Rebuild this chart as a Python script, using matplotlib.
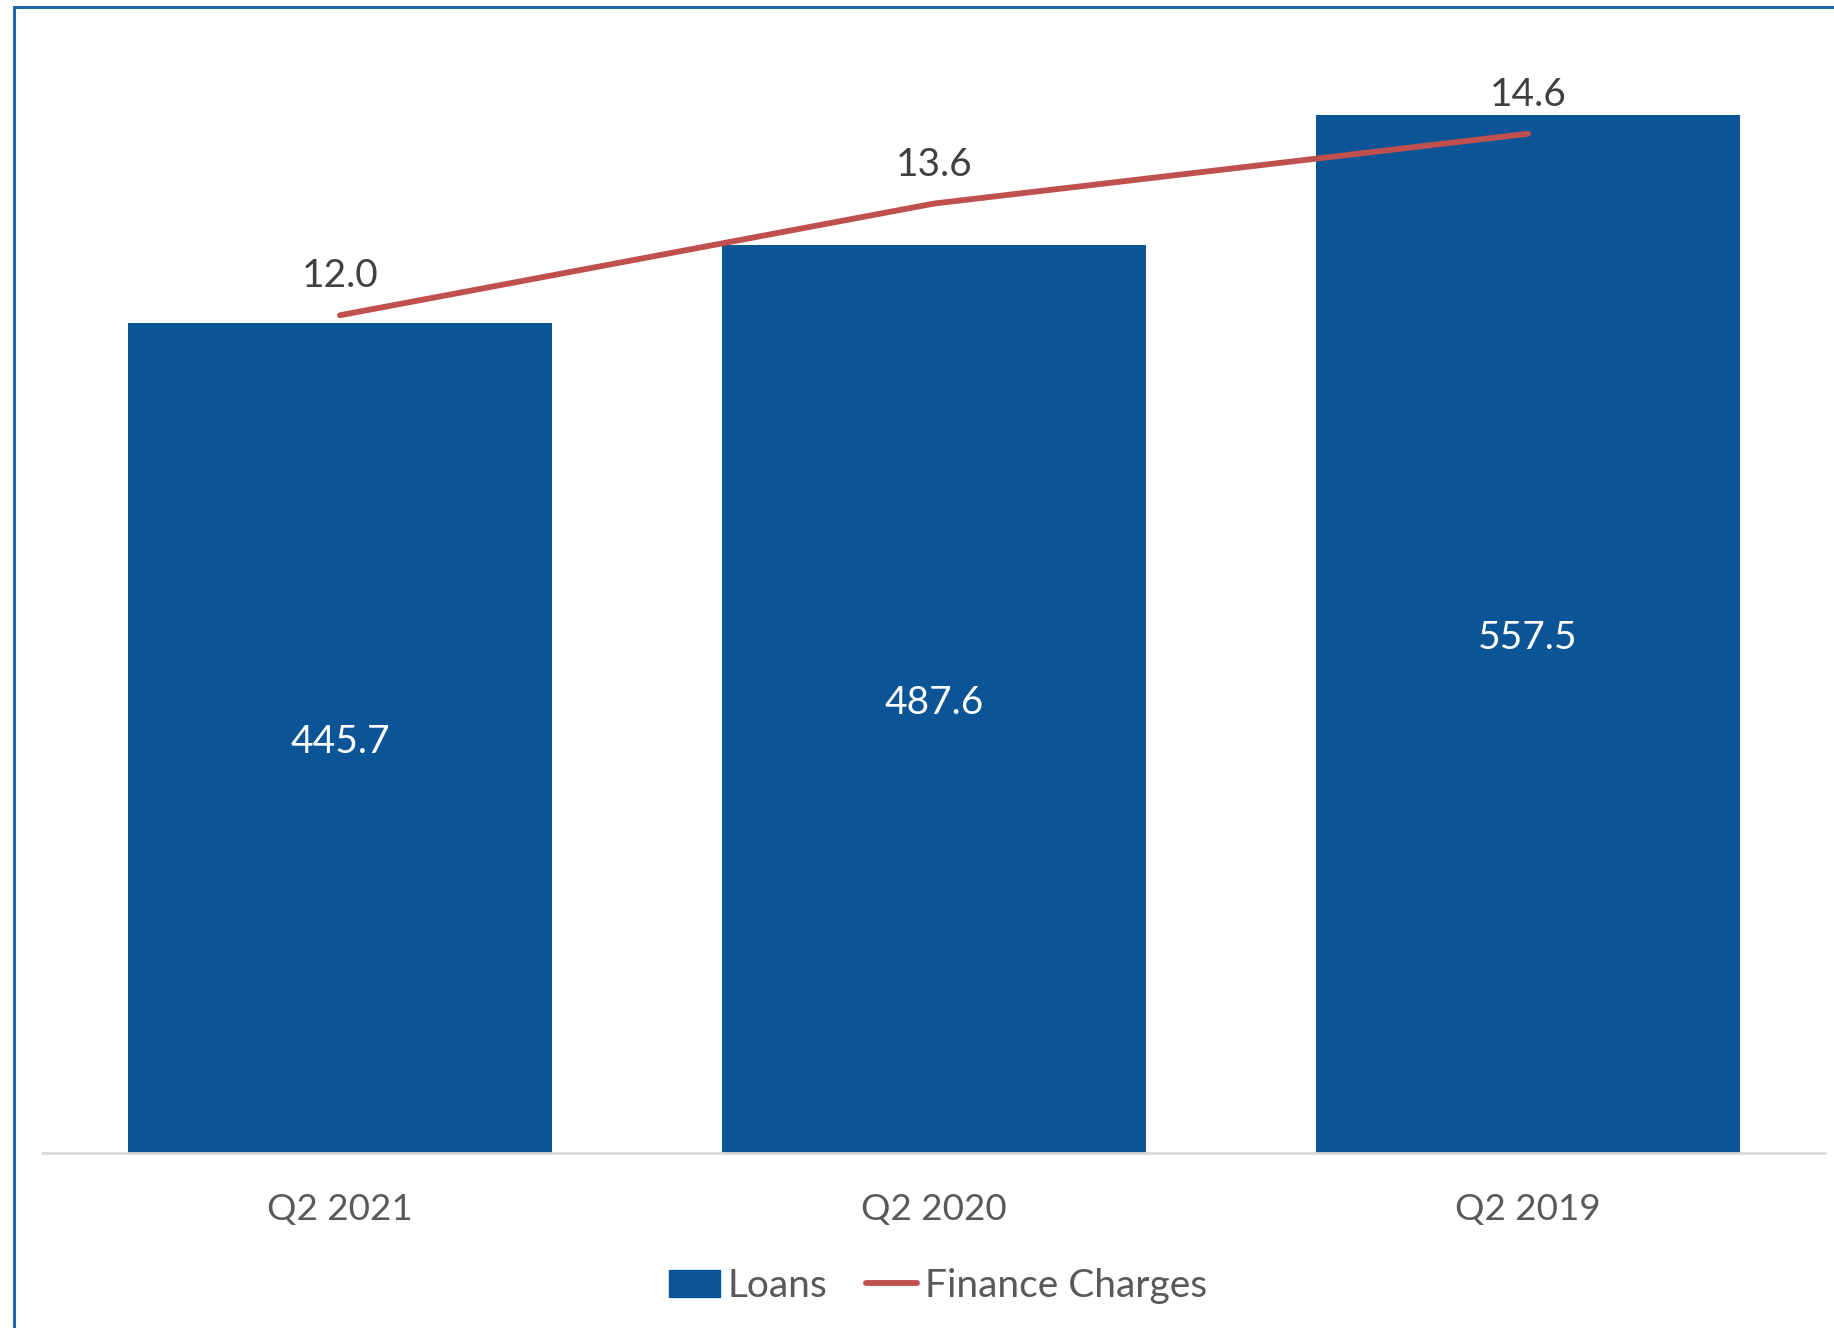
import matplotlib.pyplot as plt
from matplotlib.patches import Rectangle
from matplotlib.lines import Line2D
import numpy as np

plt.rcParams['font.family'] = ['Lato', 'DejaVu Sans']

quarters = ['Q2 2021', 'Q2 2020', 'Q2 2019']
loans = [445.7, 487.6, 557.5]
finance_charges = [12.0, 13.6, 14.6]

bar_color = '#0B5597'
line_color = '#C0504D'
tick_color = '#595959'
label_color = '#404040'

fig = plt.figure(figsize=(18.34, 13.28), dpi=100)
ax = fig.add_axes([43 / 1834, 1 - 1153 / 1328, 1782 / 1834, (1153 - 36) / 1328])
x = np.arange(len(quarters))

bars = ax.bar(x, loans, width=0.714, color=bar_color, label='Loans', zorder=2)
for xi, v in zip(x, loans):
    ax.annotate(f'{v:.1f}', (xi, v / 2), xytext=(0, -2.5), textcoords='offset points',
                ha='center', va='center', color='white', fontsize=28)

ax.set_xlim(-0.5, 2.5)
ax.set_ylim(0, 600)
ax.set_xticks(x)
ax.set_xticklabels(quarters, fontsize=26.5, color=tick_color)
ax.tick_params(axis='x', length=0, pad=29)
ax.set_yticks([])
for side in ['top', 'right', 'left']:
    ax.spines[side].set_visible(False)
ax.spines['bottom'].set_color('#D9D9D9')
ax.spines['bottom'].set_linewidth(2)

ax2 = ax.twinx()
ax2.plot(x, finance_charges, color=line_color, linewidth=4.2, solid_capstyle='round',
         label='Finance Charges', zorder=3)
for xi, v in zip(x, finance_charges):
    ax2.annotate(f'{v:.1f}', (xi, v), xytext=(0, 28), textcoords='offset points',
                 ha='center', va='center', color=label_color, fontsize=28)
ax2.set_ylim(0, 16)
ax2.set_yticks([])
for side in ['top', 'right', 'left', 'bottom']:
    ax2.spines[side].set_visible(False)

handles = [Rectangle((0, 0), 1, 1, color=bar_color),
           Line2D([0], [0], color=line_color, linewidth=4.2, solid_capstyle='round')]
fig.legend(handles, ['Loans', 'Finance Charges'], loc='center', bbox_to_anchor=(938 / 1834, 1 - 1286 / 1328),
           ncol=2, frameon=False, fontsize=28, labelcolor=tick_color,
           handlelength=1.3, handletextpad=0.2, columnspacing=1.0)

# outer frame, cut off at right and bottom like the source
fig.add_artist(Rectangle((13.5 / 1834, -0.1), 1.2, 1.1 - 7 / 1328, transform=fig.transFigure,
                         fill=False, edgecolor='#1F64AD', linewidth=2.2))

fig.savefig('out.png', dpi=100)
